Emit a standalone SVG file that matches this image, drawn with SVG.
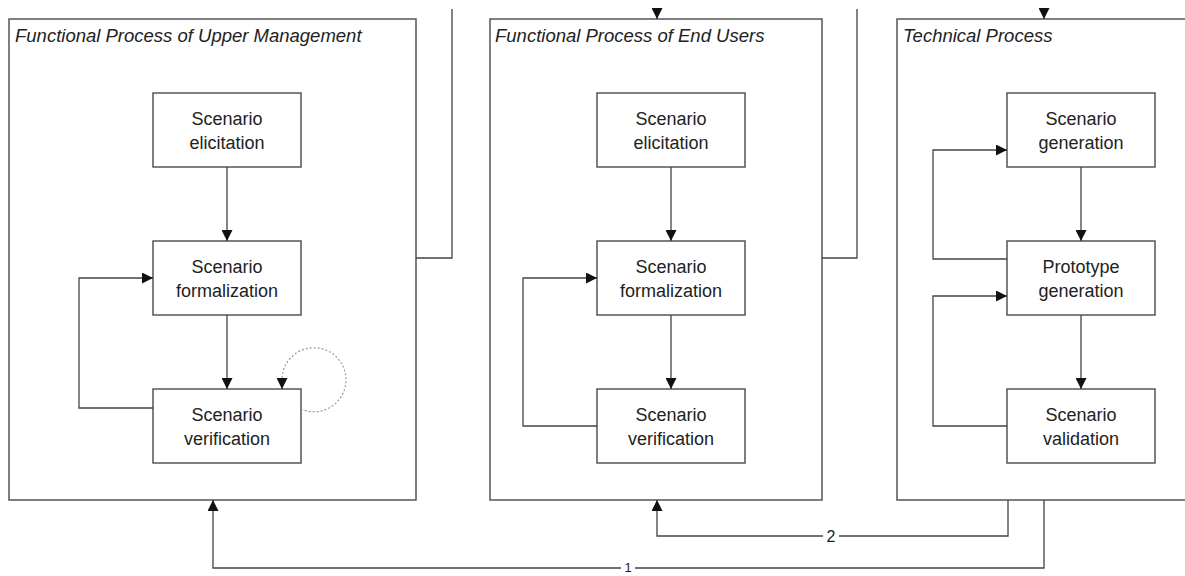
<svg xmlns="http://www.w3.org/2000/svg" width="1185" height="576" viewBox="0 0 1185 576">
<style>
.frame{fill:#fff;stroke:#555;stroke-width:1.5}
.box{fill:#fff;stroke:#555;stroke-width:1.5}
.title{font-family:"Liberation Sans",Arial,sans-serif;font-style:italic;font-size:18.5px;fill:#222}
.lbl{font-family:"Liberation Sans",Arial,sans-serif;font-size:18px;fill:#222;text-anchor:middle}
.num{font-family:"Liberation Sans",Arial,sans-serif;font-size:16px;fill:#222;text-anchor:middle}
.con{fill:none;stroke:#444;stroke-width:1.3}
.dot{fill:none;stroke:#999;stroke-width:1.2;stroke-dasharray:2 2}
</style>
<defs>
<marker id="ah" markerUnits="userSpaceOnUse" markerWidth="11" markerHeight="11" refX="10" refY="5" orient="auto" viewBox="0 0 10 10">
<path d="M0,0 L10,5 L0,10 z" fill="#111"/>
</marker>
</defs>
<rect width="1185" height="576" fill="#fff"/>
<g id="upper-management">
<rect class="frame" x="9" y="19" width="407" height="481"/>
<text class="title" x="15" y="42">Functional Process of Upper Management</text>
</g>
<g id="end-users">
<rect class="frame" x="490" y="19" width="332" height="481"/>
<text class="title" x="495" y="42">Functional Process of End Users</text>
</g>
<g id="technical">
<rect class="frame" x="897" y="19" width="310" height="481"/>
<text class="title" x="903" y="42">Technical Process</text>
</g>
<g id="um-elicitation"><rect class="box" x="153" y="93" width="148" height="74"/><text class="lbl" x="227" y="125">Scenario</text><text class="lbl" x="227" y="149">elicitation</text></g>
<g id="um-formalization"><rect class="box" x="153" y="241" width="148" height="74"/><text class="lbl" x="227" y="273">Scenario</text><text class="lbl" x="227" y="297">formalization</text></g>
<g id="um-verification"><rect class="box" x="153" y="389" width="148" height="74"/><text class="lbl" x="227" y="421">Scenario</text><text class="lbl" x="227" y="445">verification</text></g>
<g id="eu-elicitation"><rect class="box" x="597" y="93" width="148" height="74"/><text class="lbl" x="671" y="125">Scenario</text><text class="lbl" x="671" y="149">elicitation</text></g>
<g id="eu-formalization"><rect class="box" x="597" y="241" width="148" height="74"/><text class="lbl" x="671" y="273">Scenario</text><text class="lbl" x="671" y="297">formalization</text></g>
<g id="eu-verification"><rect class="box" x="597" y="389" width="148" height="74"/><text class="lbl" x="671" y="421">Scenario</text><text class="lbl" x="671" y="445">verification</text></g>
<g id="tp-generation"><rect class="box" x="1007" y="93" width="148" height="74"/><text class="lbl" x="1081" y="125">Scenario</text><text class="lbl" x="1081" y="149">generation</text></g>
<g id="tp-prototype"><rect class="box" x="1007" y="241" width="148" height="74"/><text class="lbl" x="1081" y="273">Prototype</text><text class="lbl" x="1081" y="297">generation</text></g>
<g id="tp-validation"><rect class="box" x="1007" y="389" width="148" height="74"/><text class="lbl" x="1081" y="421">Scenario</text><text class="lbl" x="1081" y="445">validation</text></g>
<g id="connectors">
<path class="con" d="M452,9 V258 H416"/>
<path class="con" d="M857,9 V258 H822"/>
<path class="con" d="M657,9 V19" marker-end="url(#ah)"/>
<path class="con" d="M1044,9 V19" marker-end="url(#ah)"/>
<path class="con" d="M227,167 V241" marker-end="url(#ah)"/>
<path class="con" d="M227,315 V389" marker-end="url(#ah)"/>
<path class="con" d="M153,408 H79 V278 H153" marker-end="url(#ah)"/>
<path class="dot" d="M301,409 A32,32 0 1,0 282,381"/>
<path class="con" d="M282,381 V389" stroke="none" marker-end="url(#ah)"/>
<path class="con" d="M671,167 V241" marker-end="url(#ah)"/>
<path class="con" d="M671,315 V389" marker-end="url(#ah)"/>
<path class="con" d="M597,426 H523 V278 H597" marker-end="url(#ah)"/>
<path class="con" d="M1081,167 V241" marker-end="url(#ah)"/>
<path class="con" d="M1081,315 V389" marker-end="url(#ah)"/>
<path class="con" d="M1007,259 H933 V150 H1007" marker-end="url(#ah)"/>
<path class="con" d="M1007,426 H933 V296 H1007" marker-end="url(#ah)"/>
<path class="con" d="M1008,500 V536 H657 V500" marker-end="url(#ah)"/>
<path class="con" d="M1044,500 V568 H213 V500" marker-end="url(#ah)"/>
<rect x="621" y="561" width="14" height="13" fill="#fff"/>
<rect x="823" y="528" width="16" height="16" fill="#fff"/>
<text class="num" x="831" y="542">2</text>
<text class="num" x="628" y="572" style="font-size:13px">1</text>
</g>
</svg>
